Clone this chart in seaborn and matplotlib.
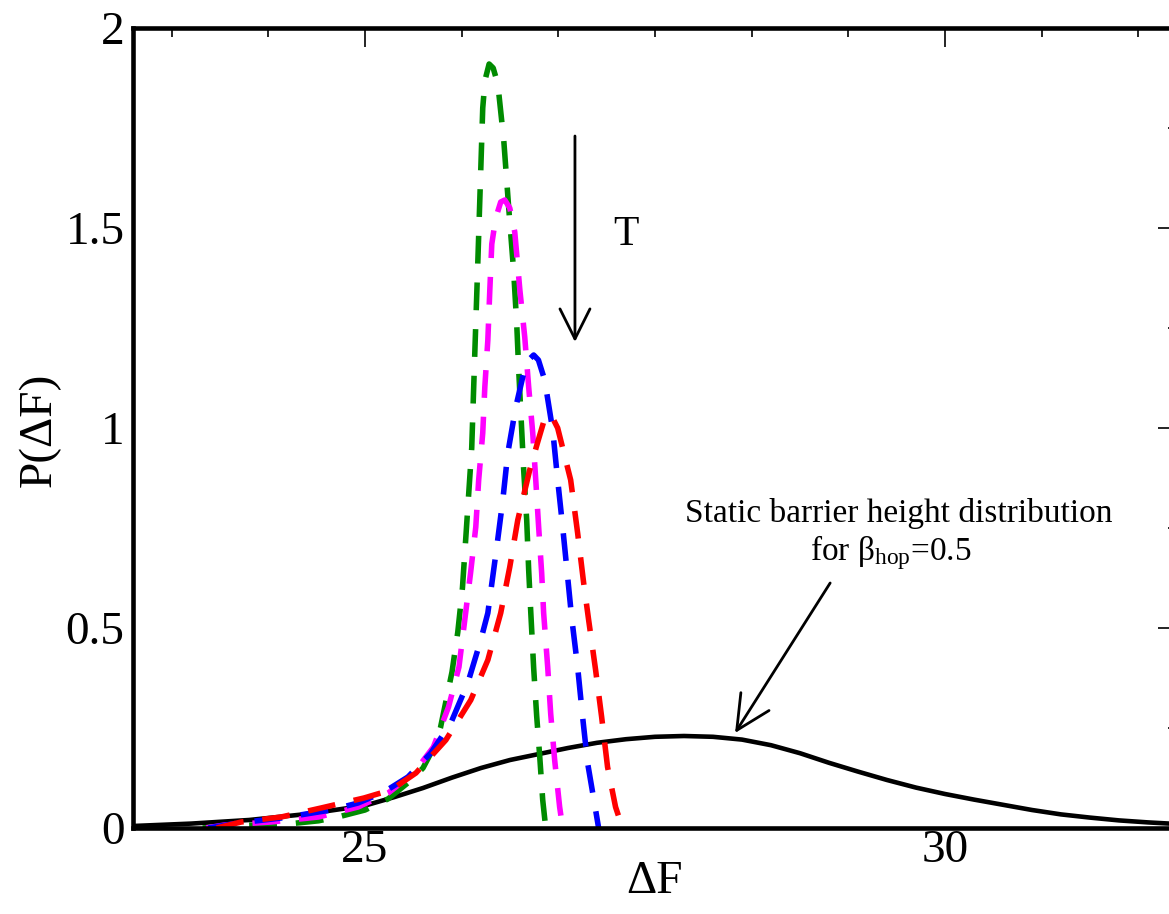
import matplotlib
matplotlib.use("Agg")
import matplotlib.pyplot as plt
import seaborn as sns
from matplotlib.ticker import MultipleLocator, AutoMinorLocator

# Static barrier height distribution (solid black)
static_x = [23.0, 23.5, 24.0, 24.5, 25.0, 25.25, 25.5, 25.75, 26.0, 26.25, 26.5,
            26.75, 27.0, 27.25, 27.5, 27.75, 28.0, 28.25, 28.5, 28.75, 29.0, 29.25,
            29.5, 29.75, 30.0, 30.25, 30.5, 30.75, 31.0, 31.25, 31.5, 31.75, 32.0]
static_y = [0.005, 0.011, 0.02, 0.035, 0.056, 0.077, 0.1, 0.126, 0.15, 0.17, 0.185,
            0.2, 0.213, 0.222, 0.228, 0.23, 0.228, 0.221, 0.207, 0.187, 0.163, 0.141,
            0.12, 0.101, 0.085, 0.071, 0.058, 0.045, 0.034, 0.026, 0.019, 0.014, 0.01]

# Temperature-dependent distributions (dashed)
green_x = [23.6, 23.8, 24.0, 24.2, 24.4, 24.6, 24.8, 25.0, 25.2, 25.4, 25.5, 25.6,
           25.65, 25.7, 25.75, 25.8, 25.84, 25.87, 25.895, 25.92, 25.948, 25.971,
           25.993, 26.015, 26.035, 26.07, 26.105, 26.145, 26.196, 26.239, 26.282,
           26.308, 26.325, 26.368, 26.394, 26.411, 26.429, 26.454, 26.48, 26.506,
           26.532, 26.558]
green_y = [0.0, 0.004, 0.007, 0.009, 0.012, 0.018, 0.03, 0.045, 0.073, 0.12, 0.15, 0.205,
           0.25, 0.32, 0.39, 0.49, 0.6, 0.73, 0.84, 0.95, 1.2, 1.4,
           1.6, 1.8, 1.87, 1.91, 1.9, 1.86, 1.72, 1.55, 1.39,
           1.26, 1.145, 0.895, 0.77, 0.645, 0.54, 0.40, 0.28, 0.18,
           0.07, 0.0]

magenta_x = [23.63, 23.79, 24.19, 24.6, 24.94, 25.2, 25.42, 25.59, 25.72, 25.81, 25.86,
             25.91, 25.955, 25.98, 26.015, 26.033, 26.059, 26.076, 26.093, 26.127, 26.17,
             26.205, 26.248, 26.291, 26.335, 26.377, 26.411, 26.446, 26.472, 26.497,
             26.523, 26.54, 26.575, 26.601, 26.635, 26.678, 26.704]
magenta_y = [0.0, 0.0075, 0.015, 0.0275, 0.0525, 0.0875, 0.1375, 0.2025, 0.3025, 0.4025, 0.52,
             0.6375, 0.7525, 0.87, 0.9875, 1.1025, 1.22, 1.345, 1.46, 1.525, 1.565,
             1.57, 1.55, 1.49, 1.345, 1.2275, 1.1025, 0.9875, 0.87, 0.7525,
             0.6375, 0.5375, 0.4025, 0.285, 0.17, 0.0525, 0.0]

blue_x = [23.65, 23.907, 24.277, 24.707, 24.94, 25.164, 25.37, 25.568, 25.74, 25.886,
          25.998, 26.059, 26.136, 26.188, 26.231, 26.3, 26.368, 26.41, 26.454, 26.495,
          26.549, 26.618, 26.661, 26.704, 26.747, 26.781, 26.833, 26.876, 26.919,
          26.988, 27.014]
blue_y = [0.0, 0.0125, 0.025, 0.045, 0.0625, 0.09, 0.1275, 0.1875, 0.2625, 0.3625,
          0.47, 0.5375, 0.7025, 0.82, 0.9375, 1.0525, 1.1375, 1.17, 1.1825, 1.17,
          1.12, 0.995, 0.87, 0.7525, 0.6275, 0.5275, 0.4025, 0.2775, 0.1625,
          0.045, 0.0]

red_x = [23.72, 23.933, 24.277, 24.621, 24.991, 25.224, 25.439, 25.697, 25.912, 26.059,
         26.17, 26.248, 26.317, 26.42, 26.489, 26.54, 26.6, 26.661, 26.773, 26.833,
         26.885, 26.928, 26.988, 27.04, 27.091, 27.16, 27.22]
red_y = [0.0, 0.015, 0.0275, 0.05, 0.075, 0.095, 0.1375, 0.22, 0.32, 0.42,
         0.5375, 0.6525, 0.77, 0.895, 0.965, 1.015, 1.035, 1.0, 0.87, 0.7375,
         0.6125, 0.52, 0.395, 0.2775, 0.1525, 0.0525, 0.0]

x_ticks_major = 5
y_ticks_major = 0.5

sns.set_theme(style="white")
plt.rcParams["font.family"] = ["Liberation Serif", "DejaVu Serif"]
plt.rcParams["mathtext.fontset"] = "custom"
plt.rcParams["mathtext.rm"] = "Liberation Serif"
plt.rcParams["mathtext.it"] = "Liberation Serif:italic"
for key in ["text.color", "axes.labelcolor", "xtick.color", "ytick.color",
            "axes.edgecolor"]:
    plt.rcParams[key] = "black"

fig = plt.figure(figsize=(11.69, 9.14), dpi=100)
ax = fig.add_axes([133 / 1169, 1 - 828 / 914, 1044 / 1169, 800 / 914])
ax.set_facecolor("white")

sns.lineplot(x=static_x, y=static_y, color="black", linewidth=3.3, ax=ax,
             sort=False, estimator=None, legend=False)

dashed = [
    (green_x, green_y, "#008b00"),
    (magenta_x, magenta_y, "#ff00ff"),
    (blue_x, blue_y, "#0000ff"),
    (red_x, red_y, "#ff0000"),
]
for xs, ys, col in dashed:
    sns.lineplot(x=xs, y=ys, color=col, linewidth=4.0, ax=ax,
                 sort=False, estimator=None, legend=False)
    ax.lines[-1].set_dashes([5.0, 3.4])

ax.set_xlim(23, 32)
ax.set_ylim(0, 2)
ax.xaxis.set_major_locator(MultipleLocator(x_ticks_major))
ax.xaxis.set_minor_locator(AutoMinorLocator(6))
ax.yaxis.set_major_locator(MultipleLocator(y_ticks_major))
ax.yaxis.set_minor_locator(AutoMinorLocator(2))
ax.yaxis.set_major_formatter(matplotlib.ticker.FuncFormatter(lambda v, p: f"{v:g}"))

for sp in ax.spines.values():
    sp.set_linewidth(3.3)
    sp.set_color("black")

ax.tick_params(which="both", direction="in", top=True, right=True, colors="black",
               width=1.2)
ax.tick_params(which="major", length=13.5, labelsize=34)
ax.tick_params(which="minor", length=6.8)
ax.tick_params(axis="x", which="major", pad=1)
ax.tick_params(axis="y", which="major", pad=6)

fig.text(654 / 1169, 1 - 882 / 914, "ΔF", fontsize=34, ha="center", va="center")
fig.text(40 / 1169, 1 - 430 / 914, "P(ΔF)", fontsize=34, ha="center", va="center",
         rotation=90)

# Temperature arrow
ax.annotate("", xy=(26.81, 1.215), xytext=(26.81, 1.73),
            arrowprops=dict(arrowstyle="->,head_length=2.16,head_width=1.08",
                            mutation_scale=10, lw=2.0, color="black",
                            shrinkA=0, shrinkB=0))
ax.text(27.25, 1.4825, "T", fontsize=30, ha="center", va="center")

# Static distribution annotation
ax.text(29.6, 0.765, "Static barrier height distribution", fontsize=24,
        ha="center", va="baseline")
ax.text(29.53, 0.67, "for β$_{\\mathrm{hop}}$=0.5", fontsize=24,
        ha="center", va="baseline")
ax.annotate("", xy=(28.19, 0.2375), xytext=(29.01, 0.6125),
            arrowprops=dict(arrowstyle="->,head_length=2.45,head_width=1.2",
                            mutation_scale=10, lw=2.0, color="black",
                            shrinkA=0, shrinkB=0))

fig.savefig("out.png", dpi=100)
